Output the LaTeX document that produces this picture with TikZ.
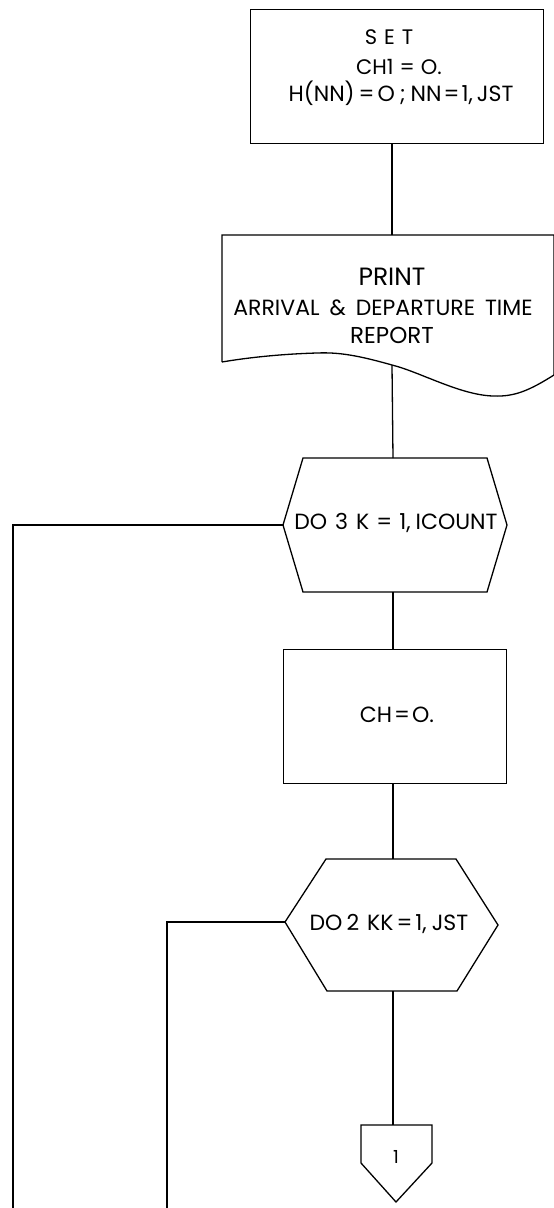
\documentclass[tikz,border=0pt]{standalone}
\usepackage{fontspec}
\setmainfont{Poppins}
\begin{document}
\begin{tikzpicture}[x=1pt,y=-1pt,line width=1.3pt,line join=miter,
  lbl/.style={inner sep=0pt,font=\fontsize{#1}{#1}\selectfont},
  lbl/.default=20]
\useasboundingbox (0,0) rectangle (554,1208);

% ---------- SET box ----------
\node[draw,anchor=north west,inner sep=0pt,minimum width=293pt,minimum height=134pt] (set) at (250,9) {};
\node[lbl=21] (setA) at (389,37) {S\hspace{7pt}E\hspace{7pt}T};
\node[lbl=21] (setB) at (399,67) {CH1\hspace{6pt}=\hspace{6pt}O.};
\node[lbl=22] (setC) at (401,93) {H(NN)\hspace{4pt}=\hspace{3pt}O\hspace{5pt};\hspace{5pt}NN\hspace{2pt}=\hspace{2pt}1,\hspace{4pt}JST};

% ---------- PRINT document ----------
\coordinate (pTL) at (222,235);
\coordinate (pTR) at (554,235);
\coordinate (pBR) at (554,375);
\coordinate (pBL) at (222,362);
\coordinate (pIn) at (392,235);
\coordinate (pOut) at (392,365);
\draw (pBL) -- (pTL) -- (pTR) -- (pBR)
  .. controls (530,390) and (515,397) .. (493,396)
  .. controls (460,395) and (420,372) .. (pOut)
  .. controls (360,356) and (340,352) .. (317,353)
  .. controls (280,354) and (245,358) .. (pBL);
\node[lbl=25] (prA) at (392,277) {PRINT};
\node[lbl=22] (prB) at (383,308) {ARRIVAL\hspace{10pt}\&\hspace{10pt}DEPARTURE\hspace{10pt}TIME};
\node[lbl=23] (prC) at (392,335) {REPORT};

% ---------- DO 3 hexagon ----------
\coordinate (h1T) at (393,458);
\coordinate (h1B) at (393,592);
\coordinate (h1L) at (283,525);
\draw (303,458) -- (487,458) -- (507,525) -- (487,592) -- (303,592) -- (h1L) -- cycle;
\node[lbl=22] (do3) at (396,523) {DO\hspace{8pt}3\hspace{8pt}K\hspace{7pt}=\hspace{7pt}1,\hspace{5pt}ICOUNT};

% ---------- CH box ----------
\node[draw,anchor=north west,inner sep=0pt,minimum width=223pt,minimum height=134pt] (ch) at (283,649) {};
\node[lbl=22] (chT) at (397,715) {CH\hspace{2pt}=\hspace{2pt}O.};

% ---------- DO 2 hexagon ----------
\coordinate (h2T) at (393,859);
\coordinate (h2B) at (393,991);
\coordinate (h2L) at (285,922);
\draw (326,859) -- (456,859) -- (498,925) -- (457,991) -- (327,991) -- (h2L) -- cycle;
\node[lbl=22] (do2) at (389,924) {DO\hspace{4pt}2\hspace{8pt}KK\hspace{3pt}=\hspace{3pt}1,\hspace{5pt}JST};

% ---------- off-page connector ----------
\coordinate (cT) at (393,1125);
\draw (361,1125) -- (432,1125) -- (432,1163) -- (396,1202) -- (361,1163) -- cycle;
\node[lbl=18] (c1) at (396,1157) {1};

% ---------- loops ----------
\coordinate (loopA) at (13,525);
\coordinate (loopAend) at (13,1208);
\coordinate (loopB) at (167,922);
\coordinate (loopBend) at (167,1208);

% ---------- connectors ----------
\draw (set.south -| pIn) -- (pIn);
\draw (pOut) -- (h1T);
\draw (h1B) -- (h1B |- ch.north);
\draw (h1B |- ch.south) -- (h2T);
\draw (h2B) -- (cT);
\draw (h1L) -- (loopA) -- (loopAend);
\draw (h2L) -- (loopB) -- (loopBend);
\end{tikzpicture}
\end{document}
